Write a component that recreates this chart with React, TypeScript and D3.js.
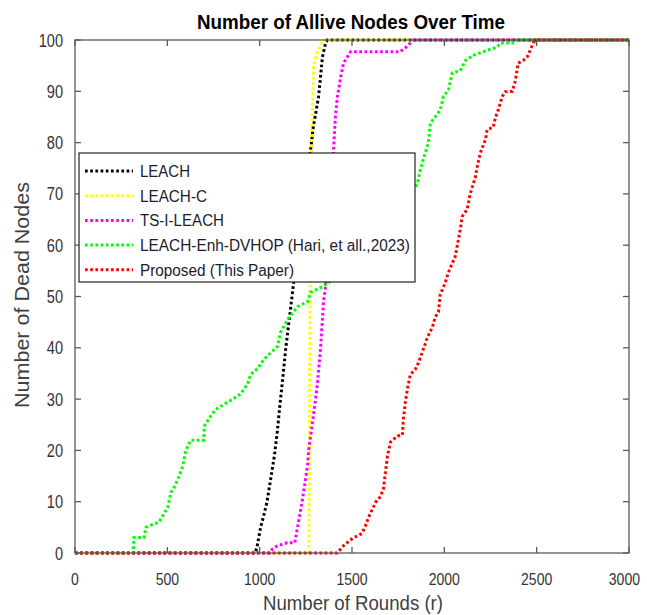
import React from 'react';
import * as d3 from 'd3';

// series values as [round, dead nodes]
const leach: [number, number][] = [
  [0, 0], [975, 0], [985, 1], [995, 3], [1005, 5], [1020, 7], [1040, 10], [1060, 14.5],
  [1080, 19], [1095, 23.5], [1110, 29], [1125, 34], [1140, 39.5], [1155, 44], [1167, 47.5],
  [1185, 53], [1200, 58], [1220, 64], [1240, 70], [1260, 75], [1276, 78.6], [1290, 83],
  [1305, 86], [1319, 89], [1330, 93], [1340, 96.7], [1357, 99.4], [1367, 100], [3000, 100],
];

const leachC: [number, number][] = [
  [0, 0], [1266, 0], [1268, 10], [1270, 30], [1273, 50], [1277, 70], [1280, 78],
  [1283, 83], [1288, 90], [1292, 95], [1305, 96.8], [1313, 97.7], [1330, 99], [1345, 100], [3000, 100],
];

const tsILeach: [number, number][] = [
  [0, 0], [1055, 0], [1070, 0.8], [1097, 1.4], [1150, 2], [1190, 2], [1205, 5],
  [1232, 10.5], [1259, 17], [1265, 20], [1292, 27], [1313, 33], [1330, 40], [1346, 49],
  [1357, 52], [1370, 60], [1385, 70], [1400, 78.6], [1410, 85], [1421, 89], [1440, 93],
  [1454, 95.5], [1492, 97.7], [1760, 97.7], [1790, 98.5], [1816, 99.4], [1832, 100], [3000, 100],
];

const leachEnh: [number, number][] = [
  [0, 0], [316, 0], [319, 3], [373, 3], [385, 5], [400, 5.3], [454, 6], [480, 7.5],
  [503, 9], [519, 11.8], [540, 13], [557, 14.4], [584, 17], [600, 20], [627, 22], [697, 22],
  [700, 24.7], [735, 26.7], [762, 28], [827, 29.4], [897, 31], [935, 33], [951, 34.8],
  [990, 36], [1022, 37.7], [1059, 39], [1097, 40.3], [1113, 43], [1151, 45.5], [1205, 48],
  [1259, 49], [1276, 50.8], [1346, 52], [1384, 53], [1450, 55], [1550, 59], [1650, 63],
  [1750, 67], [1820, 70], [1854, 72], [1870, 74.7], [1886, 76.7], [1914, 80], [1924, 83.8],
  [1951, 85], [1978, 86.4], [1995, 89], [2022, 90.3], [2043, 93.6], [2086, 94], [2114, 96],
  [2157, 97], [2232, 98], [2286, 98.6], [2303, 99.4], [2380, 99.4], [2395, 100], [3000, 100],
];

const proposed: [number, number][] = [
  [0, 0], [1420, 0], [1454, 1.4], [1490, 2.5], [1508, 3], [1540, 3.5], [1557, 4],
  [1573, 5.3], [1590, 7], [1611, 8.6], [1630, 10], [1654, 11], [1670, 12.5], [1681, 15.7],
  [1692, 18.9], [1708, 21.6], [1746, 22.8], [1773, 23], [1778, 26], [1789, 29.4],
  [1800, 32], [1816, 34.8], [1843, 35.8], [1859, 37], [1886, 39.7], [1908, 42], [1935, 44],
  [1951, 46], [1968, 47], [1978, 50.4], [2005, 52.7], [2022, 54.7], [2059, 57.8],
  [2086, 63], [2097, 65.6], [2124, 67], [2140, 70], [2168, 73.3], [2178, 75.3], [2195, 78],
  [2222, 80.5], [2232, 82.5], [2265, 83], [2276, 84.8], [2292, 86.4], [2314, 89],
  [2330, 89.9], [2368, 90], [2384, 92], [2400, 95.5], [2427, 96], [2449, 96.7], [2465, 98],
  [2481, 99.4], [2492, 100], [3000, 100],
];

const seriesNames = [
  'LEACH',
  'LEACH-C',
  'TS-I-LEACH',
  'LEACH-Enh-DVHOP (Hari, et all.,2023)',
  'Proposed (This Paper)',
];
const seriesColors = ['#000000', '#ffff00', '#ff00ff', '#00ff00', '#ff0000'];
const seriesData = [leach, leachC, tsILeach, leachEnh, proposed];
const legendWidths = [50, 67, 84, 270, 154];

const xTicks = [0, 500, 1000, 1500, 2000, 2500, 3000];
const yTicks = [0, 10, 20, 30, 40, 50, 60, 70, 80, 90, 100];

const App: React.FC = () => {
  const width = 647;
  const height = 615;
  const margin = { top: 40, right: 18, bottom: 62, left: 75 };

  const xScale = d3.scaleLinear().domain([0, 3000]).range([margin.left, width - margin.right]);
  const yScale = d3.scaleLinear().domain([0, 100]).range([height - margin.bottom, margin.top]);

  const line = d3.line<[number, number]>()
    .x(d => xScale(d[0]))
    .y(d => yScale(d[1]));

  const x0 = xScale(0);
  const x1 = xScale(3000);
  const y0 = yScale(0);
  const y1 = yScale(100);
  const tickLen = 6;
  const font = '"Liberation Sans", Arial, sans-serif';
  const axisColor = '#5a5a5a';
  const dash = '2.7,2.5';

  const legend = { x: 79, y: 153, w: 336, h: 129, row: 24.7 };

  return (
    <svg
      width={width}
      height={height}
      style={{ position: 'absolute', left: 0, top: 0, background: '#fff' }}
      fontFamily={font}
    >
      <rect x={0} y={0} width={width} height={height} fill="#fff" />

      {/* data lines */}
      {seriesData.map((d, i) => (
        <path
          key={seriesNames[i]}
          d={line(d) || ''}
          fill="none"
          stroke={seriesColors[i]}
          strokeWidth={3}
          strokeDasharray={dash}
        />
      ))}

      {/* axes box */}
      <rect x={x0} y={y1} width={x1 - x0} height={y0 - y1} fill="none" stroke={axisColor} strokeWidth={1.3} />

      {xTicks.map(t => {
        const last = t === 3000;
        return (
          <g key={'x' + t}>
            <line x1={xScale(t)} x2={xScale(t)} y1={y0} y2={y0 - tickLen} stroke={axisColor} strokeWidth={1.3} />
            <line x1={xScale(t)} x2={xScale(t)} y1={y1} y2={y1 + tickLen} stroke={axisColor} strokeWidth={1.3} />
            <text
              x={last ? 640 : xScale(t)}
              y={585}
              textAnchor={last ? 'end' : 'middle'}
              fontSize={16}
              fill="#333"
              textLength={String(t).length * 7.8}
              lengthAdjust="spacingAndGlyphs"
            >
              {t}
            </text>
          </g>
        );
      })}

      {yTicks.map(t => (
        <g key={'y' + t}>
          <line x1={x0} x2={x0 + tickLen} y1={yScale(t)} y2={yScale(t)} stroke={axisColor} strokeWidth={1.3} />
          <line x1={x1} x2={x1 - tickLen} y1={yScale(t)} y2={yScale(t)} stroke={axisColor} strokeWidth={1.3} />
          <text
            x={63}
            y={yScale(t) + 6.5}
            textAnchor="end"
            fontSize={18}
            fill="#333"
            textLength={String(t).length * 8.1}
            lengthAdjust="spacingAndGlyphs"
          >
            {t}
          </text>
        </g>
      ))}

      {/* title and axis labels */}
      <text
        x={351}
        y={29}
        textAnchor="middle"
        fontSize={20}
        fontWeight="bold"
        fill="#000"
        textLength={308}
        lengthAdjust="spacingAndGlyphs"
      >
        Number of Allive Nodes Over Time
      </text>
      <text
        x={353}
        y={610}
        textAnchor="middle"
        fontSize={21}
        fill="#404040"
        textLength={180}
        lengthAdjust="spacingAndGlyphs"
      >
        Number of Rounds (r)
      </text>
      <text
        transform={`translate(29,295) rotate(-90)`}
        textAnchor="middle"
        fontSize={21}
        fill="#404040"
        textLength={226}
        lengthAdjust="spacingAndGlyphs"
      >
        Number of Dead Nodes
      </text>

      {/* legend */}
      <rect x={legend.x} y={legend.y} width={legend.w} height={legend.h} fill="#fff" stroke="#222" strokeWidth={1.2} />
      {seriesNames.map((name, i) => {
        const baseline = 177 + i * legend.row;
        return (
          <g key={'leg' + name}>
            <line
              x1={85}
              x2={133}
              y1={baseline - 6}
              y2={baseline - 6}
              stroke={seriesColors[i]}
              strokeWidth={3}
              strokeDasharray={dash}
            />
            <text
              x={140}
              y={baseline}
              fontSize={16}
              fill="#1c1c2c"
              textLength={legendWidths[i]}
              lengthAdjust="spacingAndGlyphs"
            >
              {name}
            </text>
          </g>
        );
      })}
    </svg>
  );
};

export default App;
